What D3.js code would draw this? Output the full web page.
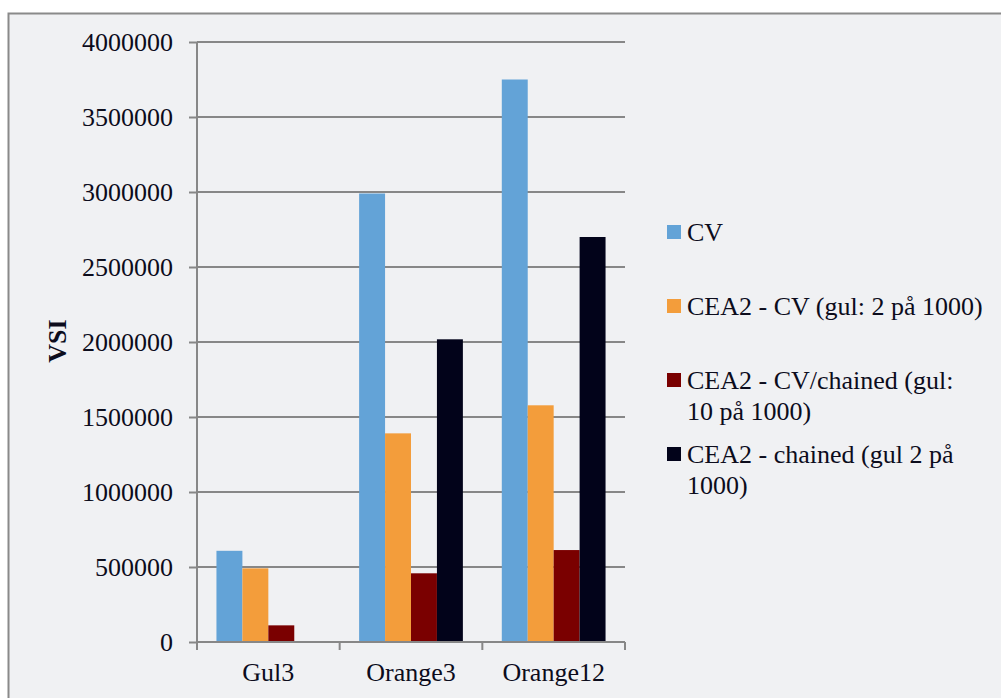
<!DOCTYPE html>
<html lang="en">
<head>
    <meta charset="UTF-8">
    <title>VSI</title>
    <script src="https://d3js.org/d3.v7.min.js"></script>
    <style>
        body { margin: 0; background: #fff; }
        text { font-family: "Liberation Serif", "Times New Roman", serif; fill: #0c0c1c; }
        .axis path { display: none; }
        .axis line { stroke: #878787; stroke-width: 2; }
    </style>
</head>
<body>
<svg width="1001" height="698"></svg>
<script>
    var categories = ['Gul3', 'Orange3', 'Orange12'];
    var seriesNames = ['CV', 'CEA2 - CV (gul: 2 på 1000)', 'CEA2 - CV/chained (gul: 10 på 1000)', 'CEA2 - chained (gul 2 på 1000)'];
    var cv = [608000, 2990000, 3750000];
    var cea2Cv = [491000, 1391000, 1578000];
    var cea2CvChained = [111000, 458000, 613000];
    var cea2Chained = [null, 2018000, 2700000];
    var yTicks = [0, 500000, 1000000, 1500000, 2000000, 2500000, 3000000, 3500000, 4000000];
    var legendLines = [['CV'], ['CEA2 - CV (gul: 2 på 1000)'], ['CEA2 - CV/chained (gul:', '10 på 1000)'], ['CEA2 - chained (gul 2 på', '1000)']];
    var colors = ['#63a3d7', '#f39d3b', '#7a0000', '#02031a'];

    var values = [cv, cea2Cv, cea2CvChained, cea2Chained];

    var svg = d3.select('svg');

    // frame
    svg.append('rect')
        .attr('x', 8.5).attr('y', 13.5)
        .attr('width', 1010).attr('height', 700)
        .attr('fill', '#f0f1f3')
        .attr('stroke', '#8a8a8a')
        .attr('stroke-width', 2);

    var plotLeft = 197, plotRight = 625, plotTop = 42, plotBottom = 642;

    var x = d3.scaleBand()
        .domain(categories)
        .range([plotLeft, plotRight])
        .padding(0);

    var x1 = d3.scaleBand()
        .domain(d3.range(seriesNames.length))
        .range([0, x.bandwidth()])
        .paddingInner(0)
        .paddingOuter(0.75);

    var y = d3.scaleLinear()
        .domain([0, 4000000])
        .range([plotBottom, plotTop]);

    // gridlines
    svg.append('g')
        .selectAll('line')
        .data(yTicks)
        .enter().append('line')
        .attr('x1', plotLeft).attr('x2', plotRight)
        .attr('y1', function (d) { return y(d); })
        .attr('y2', function (d) { return y(d); })
        .attr('stroke', '#878787')
        .attr('stroke-width', 2);

    var yAxis = d3.axisLeft(y)
        .tickValues(yTicks)
        .tickSize(8)
        .tickPadding(16)
        .tickFormat(d3.format('d'));

    var gY = svg.append('g')
        .attr('class', 'axis')
        .attr('transform', 'translate(' + plotLeft + ',0)')
        .call(yAxis);
    gY.selectAll('text')
        .style('font-size', '26px')
        .style('font-family', '"Liberation Serif", "Times New Roman", serif')
        .attr('fill', '#0c0c1c');

    svg.append('line')
        .attr('x1', plotLeft).attr('x2', plotLeft)
        .attr('y1', plotTop).attr('y2', plotBottom)
        .attr('stroke', '#878787').attr('stroke-width', 2);

    // bars
    var groups = svg.append('g')
        .selectAll('g')
        .data(categories)
        .enter().append('g')
        .attr('transform', function (d) { return 'translate(' + x(d) + ',0)'; });

    groups.selectAll('rect')
        .data(function (d, i) {
            return values.map(function (s, j) { return { s: j, v: s[i] }; })
                .filter(function (e) { return e.v != null; });
        })
        .enter().append('rect')
        .attr('x', function (d) { return x1(d.s); })
        .attr('width', x1.bandwidth())
        .attr('y', function (d) { return y(d.v); })
        .attr('height', function (d) { return plotBottom - y(d.v); })
        .attr('fill', function (d) { return colors[d.s]; });

    // x axis
    svg.append('line')
        .attr('x1', plotLeft - 1).attr('x2', plotRight)
        .attr('y1', plotBottom).attr('y2', plotBottom)
        .attr('stroke', '#878787').attr('stroke-width', 2);

    var bounds = categories.map(function (c) { return x(c); }).concat([plotRight]);
    svg.append('g')
        .selectAll('line')
        .data(bounds)
        .enter().append('line')
        .attr('x1', function (d) { return d; }).attr('x2', function (d) { return d; })
        .attr('y1', plotBottom).attr('y2', plotBottom + 8)
        .attr('stroke', '#878787').attr('stroke-width', 2);

    svg.append('g')
        .selectAll('text')
        .data(categories)
        .enter().append('text')
        .attr('x', function (d) { return x(d) + x.bandwidth() / 2; })
        .attr('y', 681)
        .attr('text-anchor', 'middle')
        .style('font-size', '26px')
        .text(function (d) { return d; });

    // y title
    svg.append('text')
        .attr('transform', 'translate(66,341) rotate(-90)')
        .attr('text-anchor', 'middle')
        .style('font-size', '26px')
        .style('font-weight', 'bold')
        .text('VSI');

    // legend
    var legendY = [241, 315, 389, 463];
    var leg = svg.append('g')
        .selectAll('g')
        .data(legendLines)
        .enter().append('g')
        .attr('transform', function (d, i) { return 'translate(667,' + legendY[i] + ')'; });

    leg.append('rect')
        .attr('x', 0).attr('y', -16)
        .attr('width', 14).attr('height', 14)
        .attr('fill', function (d, i) { return colors[i]; });

    leg.append('text')
        .attr('x', 20)
        .style('font-size', '26px')
        .selectAll('tspan')
        .data(function (d) { return d; })
        .enter().append('tspan')
        .attr('x', 20)
        .attr('dy', function (d, i) { return i === 0 ? 0 : 31; })
        .text(function (d) { return d; });
</script>
</body>
</html>
